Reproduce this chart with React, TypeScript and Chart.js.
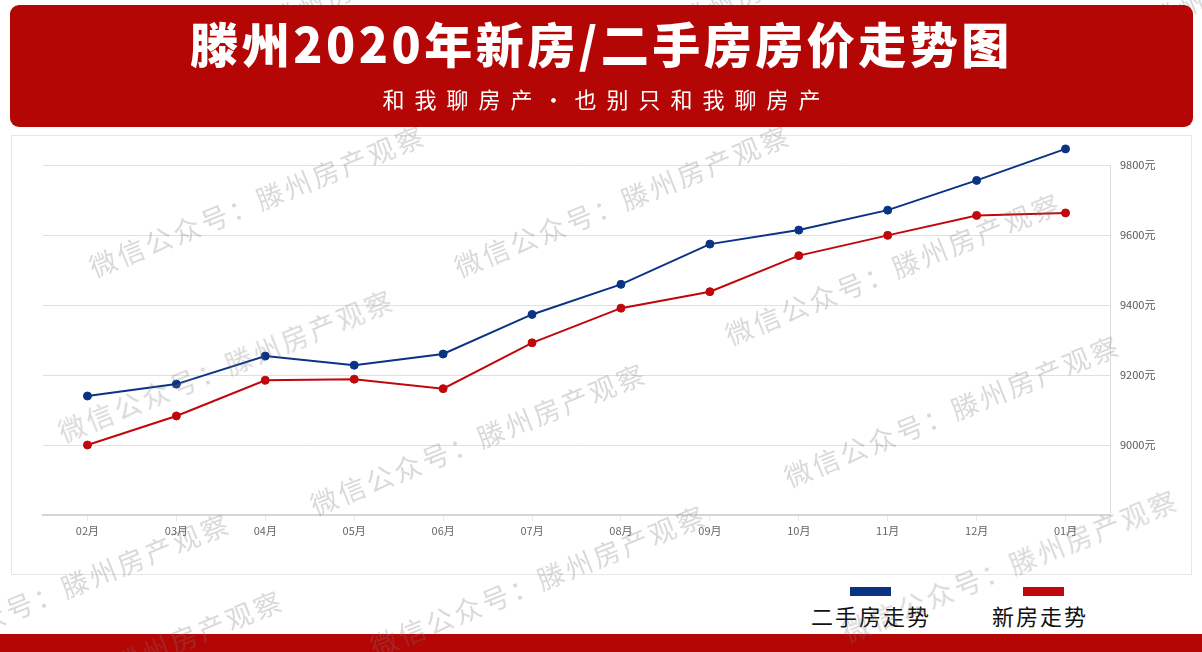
import React, { useEffect, useRef } from 'react';
import { Chart, registerables } from 'chart.js';

Chart.register(...registerables);

// ---- data ----
const categories = ['02月', '03月', '04月', '05月', '06月', '07月', '08月', '09月', '10月', '11月', '12月', '01月'];
const secondHandPrices = [9140, 9174, 9254, 9228, 9260, 9373, 9459, 9574, 9614, 9671, 9756, 9846];
const newHomePrices = [9000, 9083, 9185, 9188, 9161, 9292, 9391, 9438, 9541, 9599, 9656, 9663];
const yTickValues = [8800, 9000, 9200, 9400, 9600, 9800];
const yScaleMax = 9850;
const yUnit = '元';
const titleText = '滕州2020年新房/二手房房价走势图';
const subtitleText = '和我聊房产·也别只和我聊房产';
const legendLabels = ['二手房走势', '新房走势'];
const watermarkText = '微信公众号：滕州房产观察';
const watermarkCenters: [number, number][] = [
  [257, 200], [622, 200], [226, 365], [893, 268], [952, 410],
  [478, 438], [62, 588], [115, 665], [538, 580], [1010, 565],
  [1150, 20], [680, 20], [270, 20],
];

const BLUE = '#0b3385';
const RED = '#c0080c';
const BANNER_RED = '#b50606';
const FONT = '"Noto Sans CJK SC", "Noto Sans", sans-serif';

// draws the right-hand axis line from the top tick down to the x axis
const rightAxisLine = {
  id: 'rightAxisLine',
  beforeDatasetsDraw(chart: any) {
    const y = chart.scales.y;
    const area = chart.chartArea;
    const top = y.getPixelForValue(yTickValues[yTickValues.length - 1]);
    const ctx = chart.ctx;
    ctx.save();
    ctx.strokeStyle = '#dcdcdc';
    ctx.lineWidth = 1;
    ctx.beginPath();
    ctx.moveTo(area.right + 0.5, top);
    ctx.lineTo(area.right + 0.5, area.bottom);
    ctx.stroke();
    ctx.restore();
  },
};

export default function App() {
  const canvasRef = useRef<HTMLCanvasElement | null>(null);

  useEffect(() => {
    if (!canvasRef.current) return;
    const chart = new Chart(canvasRef.current, {
      type: 'line',
      data: {
        labels: categories,
        datasets: [
          {
            label: legendLabels[0],
            data: secondHandPrices,
            borderColor: BLUE,
            backgroundColor: BLUE,
            pointBackgroundColor: BLUE,
            pointBorderColor: BLUE,
            pointRadius: 4,
            pointBorderWidth: 1,
            borderWidth: 2,
            tension: 0,
            clip: false as any,
          },
          {
            label: legendLabels[1],
            data: newHomePrices,
            borderColor: RED,
            backgroundColor: RED,
            pointBackgroundColor: RED,
            pointBorderColor: RED,
            pointRadius: 4,
            pointBorderWidth: 1,
            borderWidth: 2,
            tension: 0,
            clip: false as any,
          },
        ],
      },
      options: {
        animation: false,
        responsive: true,
        maintainAspectRatio: false,
        layout: { padding: { left: 32, top: 12.5, right: 0, bottom: 0 } },
        plugins: {
          legend: { display: false },
          tooltip: { enabled: false },
          title: { display: false },
        },
        scales: {
          x: {
            offset: true,
            grid: {
              display: true,
              drawOnChartArea: false,
              drawTicks: true,
              tickLength: 6,
              color: '#e8e8e8',
            },
            border: { display: true, color: '#d6d6d6', width: 2 },
            ticks: {
              padding: 3,
              color: '#666666',
              font: { family: FONT, size: 11 },
              maxRotation: 0,
              autoSkip: false,
            },
            afterFit: (s: any) => {
              s.height = 60;
              s.paddingLeft = 0;
              s.paddingRight = 0;
            },
          },
          y: {
            position: 'right',
            min: yTickValues[0],
            max: yScaleMax,
            afterBuildTicks: (s: any) => {
              s.ticks = yTickValues.map((v) => ({ value: v }));
            },
            grid: { color: '#e0e0e0', drawTicks: false },
            border: { display: false },
            ticks: {
              padding: 10,
              color: '#555555',
              font: { family: FONT, size: 11 },
              callback: (v: any) => (v === yTickValues[0] ? '' : `${v}${yUnit}`),
            },
            afterFit: (s: any) => {
              s.width = 82;
              s.paddingTop = 0;
              s.paddingBottom = 0;
            },
          },
        },
      },
      plugins: [rightAxisLine],
    });
    return () => chart.destroy();
  }, []);

  return (
    <div
      style={{
        position: 'fixed',
        left: 0,
        top: 0,
        width: 1202,
        height: 652,
        overflow: 'hidden',
        background: '#ffffff',
        fontFamily: FONT,
      }}
    >
      {/* bottom bar */}
      <div style={{ position: 'absolute', left: 0, top: 634, width: 1202, height: 18, background: BANNER_RED, zIndex: 0 }} />

      {/* chart box */}
      <div
        style={{
          position: 'absolute',
          left: 11,
          top: 135,
          width: 1181,
          height: 440,
          boxSizing: 'border-box',
          border: '1px solid #e6e6e6',
          zIndex: 1,
        }}
      />
      <div style={{ position: 'absolute', left: 11, top: 135, width: 1181, height: 440, zIndex: 2 }}>
        <canvas ref={canvasRef} />
      </div>

      {/* legend */}
      <div style={{ position: 'absolute', left: 850, top: 587, width: 41, height: 9, background: BLUE, zIndex: 2 }} />
      <div style={{ position: 'absolute', left: 1023, top: 587, width: 41, height: 9, background: RED, zIndex: 2 }} />
      <div
        style={{
          position: 'absolute',
          left: 871,
          top: 615,
          transform: 'translate(-50%, -50%)',
          fontSize: 22,
          letterSpacing: 2,
          color: '#111111',
          whiteSpace: 'nowrap',
          zIndex: 2,
        }}
      >
        {legendLabels[0]}
      </div>
      <div
        style={{
          position: 'absolute',
          left: 1040,
          top: 615,
          transform: 'translate(-50%, -50%)',
          fontSize: 22,
          letterSpacing: 2,
          color: '#111111',
          whiteSpace: 'nowrap',
          zIndex: 2,
        }}
      >
        {legendLabels[1]}
      </div>

      {/* watermarks */}
      {watermarkCenters.map(([x, y], i) => (
        <div
          key={i}
          style={{
            position: 'absolute',
            left: x,
            top: y,
            transform: 'translate(-50%, -50%) rotate(-22deg)',
            fontSize: 27,
            letterSpacing: 3,
            color: 'rgba(120,120,120,0.28)',
            whiteSpace: 'nowrap',
            pointerEvents: 'none',
            zIndex: 3,
          }}
        >
          {watermarkText}
        </div>
      ))}

      {/* banner */}
      <div
        style={{
          position: 'absolute',
          left: 10,
          top: 5,
          width: 1183,
          height: 122,
          borderRadius: 9,
          background: BANNER_RED,
          zIndex: 4,
        }}
      >
        <div
          style={{
            position: 'absolute',
            left: 0,
            width: '100%',
            top: 37,
            transform: 'translateY(-50%)',
            textAlign: 'center',
            color: '#ffffff',
            fontSize: 48,
            fontWeight: 900,
            letterSpacing: 3.5,
            whiteSpace: 'nowrap',
          }}
        >
          {titleText}
        </div>
        <div
          style={{
            position: 'absolute',
            left: 5,
            width: '100%',
            top: 93,
            transform: 'translateY(-50%)',
            textAlign: 'center',
            color: '#ffffff',
            fontSize: 22,
            letterSpacing: 10,
            whiteSpace: 'nowrap',
          }}
        >
          {subtitleText}
        </div>
      </div>
    </div>
  );
}
